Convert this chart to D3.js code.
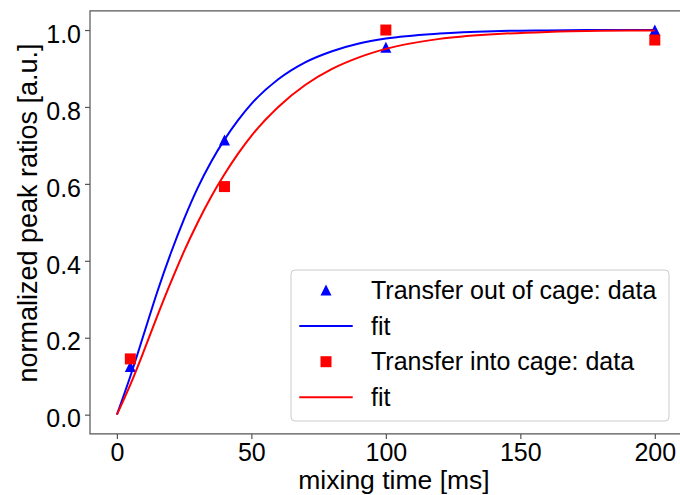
<!DOCTYPE html>
<html>
<head>
<meta charset="utf-8">
<script src="https://cdn.jsdelivr.net/npm/d3@7"></script>
<style>
  html, body { margin: 0; padding: 0; background: #fff; }
  svg { display: block; font-family: "Liberation Sans", Arial, sans-serif; }
</style>
</head>
<body>
<svg id="chart" width="680" height="495"></svg>
<script>
// ---- data ----
const outTimes = [5, 40, 100, 200];
const outValues = [0.125, 0.714, 0.955, 1.0];
const intoTimes = [5, 40, 100, 200];
const intoValues = [0.145, 0.593, 1.0, 0.974];

const fitTimes = [0, 5, 10, 15, 20, 25, 30, 35, 40, 45, 50, 60, 70, 80, 90, 100, 120, 140, 160, 180, 200];
const outFit =   [0, 0.100, 0.209, 0.319, 0.419, 0.509, 0.589, 0.657, 0.715, 0.765, 0.808, 0.872, 0.916, 0.945, 0.965, 0.978, 0.991, 0.997, 0.999, 1.0, 1.0];
const intoFit =  [0, 0.078, 0.165, 0.256, 0.343, 0.425, 0.499, 0.566, 0.625, 0.678, 0.725, 0.800, 0.857, 0.899, 0.929, 0.951, 0.977, 0.989, 0.995, 0.998, 0.999];

const xTicks = [0, 50, 100, 150, 200];
const yTicks = [0.0, 0.2, 0.4, 0.6, 0.8, 1.0];
const legendLabels = ["Transfer out of cage: data", "fit", "Transfer into cage: data", "fit"];
const xLabel = "mixing time [ms]";
const yLabel = "normalized peak ratios [a.u.]";

// ---- layout ----
const svg = d3.select("#chart");
const pL = 90, pR = 681.7, pT = 10.8, pB = 433.9;
const x = d3.scaleLinear().domain([-10, 210]).range([pL, pR]);
const y = d3.scaleLinear().domain([-0.05, 1.05]).range([pB, pT]);
const BLUE = "#0000ff", RED = "#ff0000", SPINE = "#555";
const TICK_FS = 25, LABEL_FS = 26.5, LEG_FS = 25;

// spines
svg.append("path")
  .attr("d", `M${pL},${pB}V${pT}H${pR}V${pB}Z`)
  .attr("fill", "none").attr("stroke", SPINE).attr("stroke-width", 1.2);

// x axis
const gx = svg.append("g").attr("transform", `translate(0,${pB})`)
  .call(d3.axisBottom(x).tickValues(xTicks).tickSize(5).tickSizeOuter(0).tickFormat(d3.format("d")));
gx.select(".domain").remove();
gx.selectAll(".tick line").attr("stroke", SPINE).attr("stroke-width", 1.2);
gx.selectAll(".tick text").attr("y", 26.8).attr("dy", null)
  .attr("font-size", TICK_FS).attr("fill", "#000").attr("font-family", "Liberation Sans, Arial, sans-serif");

// y axis
const gy = svg.append("g").attr("transform", `translate(${pL},0)`)
  .call(d3.axisLeft(y).tickValues(yTicks).tickSize(5).tickSizeOuter(0).tickFormat(d3.format(".1f")));
gy.select(".domain").remove();
gy.selectAll(".tick line").attr("stroke", SPINE).attr("stroke-width", 1.2);
gy.selectAll(".tick text").attr("x", -9).attr("dy", "12.2px")
  .attr("font-size", TICK_FS).attr("fill", "#000").attr("font-family", "Liberation Sans, Arial, sans-serif");

// axis labels
svg.append("text").attr("x", 394).attr("y", 489)
  .attr("text-anchor", "middle").attr("font-size", LABEL_FS).attr("fill", "#000").text(xLabel);
svg.append("text").attr("transform", `translate(37,213) rotate(-90)`)
  .attr("text-anchor", "middle").attr("font-size", 27).attr("fill", "#000").text(yLabel);

// marks
const plot = svg.append("g");
const tri = h => `M0,${-h}L${-h},${h}L${h},${h}Z`;
const line = d3.line().x(d => x(d[0])).y(d => y(d[1])).curve(d3.curveMonotoneX);

plot.selectAll(".tri").data(d3.zip(outTimes, outValues)).join("path")
  .attr("d", tri(5.5)).attr("fill", BLUE)
  .attr("transform", d => `translate(${x(d[0])},${y(d[1])})`);
plot.append("path").datum(d3.zip(fitTimes, outFit)).attr("d", line)
  .attr("fill", "none").attr("stroke", BLUE).attr("stroke-width", 2);
plot.selectAll(".sq").data(d3.zip(intoTimes, intoValues)).join("rect")
  .attr("x", d => x(d[0]) - 5.5).attr("y", d => y(d[1]) - 5.5)
  .attr("width", 11).attr("height", 11).attr("fill", RED);
plot.append("path").datum(d3.zip(fitTimes, intoFit)).attr("d", line)
  .attr("fill", "none").attr("stroke", RED).attr("stroke-width", 2);

// legend
const lg = svg.append("g");
lg.append("rect").attr("x", 291).attr("y", 270).attr("width", 378).attr("height", 151)
  .attr("rx", 4).attr("fill", "#fff").attr("fill-opacity", 0.8)
  .attr("stroke", "#cccccc").attr("stroke-width", 1);
const rowY = [290, 326, 361.7, 397.3];
const kinds = ["tri", "line", "sq", "line"];
const colors = [BLUE, BLUE, RED, RED];
legendLabels.forEach((lab, i) => {
  const cy = rowY[i];
  if (kinds[i] === "tri") {
    lg.append("path").attr("d", tri(5.5)).attr("fill", colors[i]).attr("transform", `translate(326,${cy})`);
  } else if (kinds[i] === "sq") {
    lg.append("rect").attr("x", 326 - 5.5).attr("y", cy - 5.5).attr("width", 11).attr("height", 11).attr("fill", colors[i]);
  } else {
    lg.append("line").attr("x1", 299.3).attr("x2", 352.7).attr("y1", cy).attr("y2", cy)
      .attr("stroke", colors[i]).attr("stroke-width", 2);
  }
  lg.append("text").attr("x", 371).attr("y", cy + 8.6).attr("font-size", LEG_FS).attr("fill", "#000").text(lab);
});
</script>
</body>
</html>
